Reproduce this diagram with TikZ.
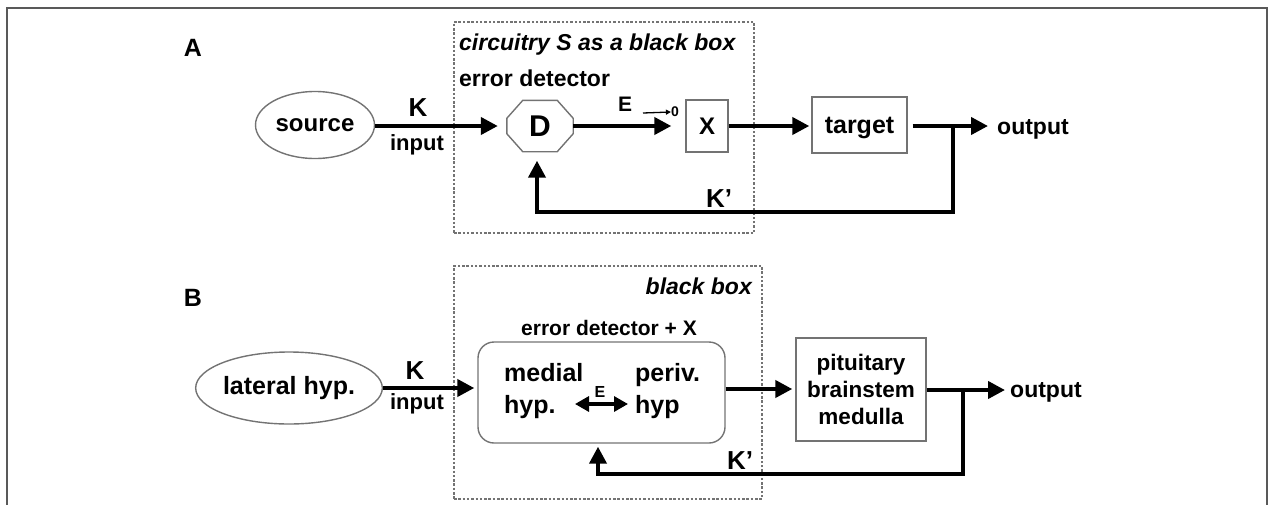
\documentclass[tikz,border=0pt]{standalone}
\usepackage{fontspec}
\setmainfont{Liberation Sans}
\usetikzlibrary{arrows.meta,calc,shapes.geometric}
\begin{document}
\begin{tikzpicture}[x=1pt,y=-1pt,
  t/.style={inner sep=0pt, font=\bfseries\fontsize{#1}{#1}\selectfont},
  ti/.style={inner sep=0pt, font=\bfseries\itshape\fontsize{#1}{#1}\selectfont},
  shapeline/.style={draw=black!55, line width=1.4pt},
  ell/.style={shapeline, ellipse, inner sep=0pt},
  boxn/.style={shapeline, rectangle, inner sep=0pt},
  bbox/.style={draw=black!55, line width=1.1pt, dash pattern=on 2.5pt off 1.8pt, rectangle, inner sep=0pt},
  flow/.style={line width=4pt, -{Triangle[length=17pt,width=17pt]}},
  thinflow/.style={line width=1.3pt, -{Triangle[length=5pt,width=5pt]}},
  dflow/.style={line width=3.2pt, {Triangle[length=14pt,width=15pt]}-{Triangle[length=14pt,width=15pt]}},
  frame/.style={draw=black!65, line width=1.5pt}
]
\useasboundingbox (0,0) rectangle (1269,504);
\clip (0,0) rectangle (1269,504);
\draw[frame] (7,520) -- (7,8) -- (1267,8) -- (1267,520);

% ---------------- Panel A ----------------
\node[t=25] (labA) at (193,48) {A};
\node[bbox, minimum width=300pt, minimum height=211pt] (bbA) at (604,127.5) {};
\node[ti=23, anchor=base west] (titA) at (459,50) {circuitry S as a black box};
\node[t=23, anchor=base west] (edA) at (459,86) {error detector};

\node[ell, minimum width=119pt, minimum height=67pt, font=\bfseries\fontsize{24}{24}\selectfont] (src) at (315,125) {source};
\node[t=26] (KA) at (418,108) {K};
\node[t=22] (inA) at (417,145) {input};

\node[minimum width=66pt, minimum height=51pt, inner sep=0pt, font=\bfseries\fontsize{30}{30}\selectfont] (D) at (540,126) {D};
\draw[shapeline] ([xshift=16pt]D.north west) -- ([xshift=-16pt]D.north east)
  -- ([yshift=-18pt]D.north east) -- ([yshift=18pt]D.south east)
  -- ([xshift=-16pt]D.south east) -- ([xshift=16pt]D.south west)
  -- ([yshift=18pt]D.south west) -- ([yshift=-18pt]D.north west) -- cycle;

\node[t=21] (EA) at (625,104) {E};
\node[t=14] (zero) at (675,112) {0};
\coordinate (eStart) at (643,113);
\draw[thinflow] (eStart) -- (zero.west);

\node[boxn, minimum width=42pt, minimum height=52pt, font=\bfseries\fontsize{24}{24}\selectfont] (X) at (707,126) {X};
\node[boxn, minimum width=95pt, minimum height=56pt, text depth=0pt, font=\bfseries\fontsize{25}{25}\selectfont] (tgt) at (859.5,125) {target};
\node[t=23, anchor=base west] (outA) at (997,134) {output};
\coordinate (brA) at (953,126);
\coordinate (fbA) at (953,212);
\coordinate (fbA2) at (537,212);

\draw[flow, shorten >=9pt] (src.east |- brA) -- (D.west |- brA);
\draw[flow, shorten >=14pt] (D.east |- brA) -- (X.west |- brA);
\draw[flow, shorten >=2pt] (X.east |- brA) -- (tgt.west |- brA);
\draw[flow, shorten <=5pt, shorten >=9pt] (tgt.east |- brA) -- (outA.west |- brA);
\draw[flow, shorten >=9pt] (brA) -- (fbA) -- (fbA2) -- (fbA2 |- D.south);
\node[t=26] (KpA) at (719,199) {K’};

% ---------------- Panel B ----------------
\node[t=25] (labB) at (193,298) {B};
\node[bbox, minimum width=308pt, minimum height=233pt] (bbB) at (608,382.5) {};
\node[ti=23, anchor=base east] (titB) at (752,294) {black box};
\node[t=21, anchor=base] (edB) at (609,335) {error detector + X};

\node[ell, minimum width=178pt, minimum height=72pt, font=\bfseries\fontsize{25}{25}\selectfont] (lat) at (289,388) {lateral hyp.};
\node[t=26] (KB) at (415,371) {K};
\node[t=22] (inB) at (417,404) {input};

\node[shapeline, rectangle, rounded corners=16pt, minimum width=247pt, minimum height=101pt, inner sep=0pt] (hyp) at (601.5,392.5) {};
\node[align=left, anchor=west, inner sep=0pt, font=\bfseries\fontsize{25}{32}\selectfont] (med) at (504,391) {medial\\hyp.};
\node[align=left, anchor=west, inner sep=0pt, font=\bfseries\fontsize{25}{32}\selectfont] (per) at (635,391) {periv.\\hyp};
\coordinate (dL) at (575,404);
\coordinate (dR) at (628,404);
\draw[dflow] (dL) -- (dR);
\node[t=16] (EB) at (600,392) {E};

\node[boxn, minimum width=130pt, minimum height=103pt, align=center, font=\bfseries\fontsize{22.5}{27}\selectfont] (pit) at (861,389.5) {pituitary\\brainstem\\medulla};
\node[t=23, anchor=base west] (outB) at (1010,397) {output};
\coordinate (brB) at (963,390);
\coordinate (fbB) at (963,474);
\coordinate (fbB2) at (598,474);

\draw[flow, shorten >=3pt] (lat.east |- 0,388) -- (hyp.west |- 0,388);
\draw[flow, shorten >=3pt] (hyp.east |- 0,389) -- (pit.west |- 0,389);
\draw[flow, shorten >=5pt] (pit.east |- brB) -- (outB.west |- brB);
\draw[flow, shorten >=3pt] (brB) -- (fbB) -- (fbB2) -- (fbB2 |- hyp.south);
\node[t=26] (KpB) at (740,461) {K’};
\end{tikzpicture}
\end{document}
